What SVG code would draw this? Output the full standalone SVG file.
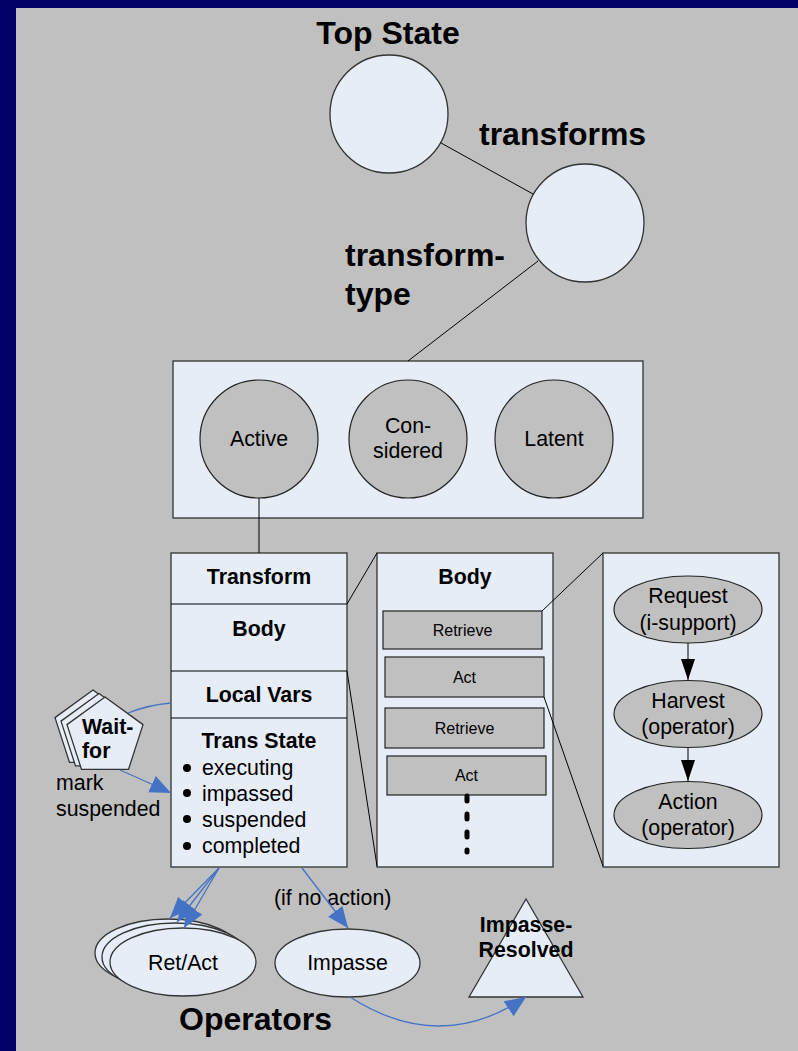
<svg xmlns="http://www.w3.org/2000/svg" width="798" height="1051" viewBox="0 0 798 1051">
<style>
text{font-family:"Liberation Sans",Arial,sans-serif;fill:#000}
.big{font-size:32px;font-weight:bold}
.b{font-size:21.33px;font-weight:bold}
.r{font-size:21.33px}
.s{font-size:16px}
.c{text-anchor:middle}
.lb{fill:#E6EDF7;stroke:#333;stroke-width:1.3}
.gy{fill:#C0C0C0;stroke:#222;stroke-width:1.2}
.ln{stroke:#000;stroke-width:1;fill:none}
.bl{stroke:#4472C4;stroke-width:1.3;fill:none}
</style>
<defs>
<marker id="ab" markerUnits="userSpaceOnUse" markerWidth="24" markerHeight="20" refX="21" refY="9" orient="auto"><path d="M0,0 L21,9 L0,18 z" fill="#4472C4"/></marker>
<marker id="ak" markerUnits="userSpaceOnUse" markerWidth="24" markerHeight="16" refX="21" refY="7" orient="auto"><path d="M0,0 L21,7 L0,14 z" fill="#000"/></marker>
</defs>
<rect x="0" y="0" width="798" height="1051" fill="#000066"/>
<rect x="16" y="8" width="782" height="1043" fill="#C0C0C0"/>
<g id="top-state">
<text class="big c" x="388" y="44">Top State</text>
<circle class="lb" cx="389" cy="114" r="59" stroke="#000" stroke-width="1"/>
</g>
<g id="transforms">
<text class="big" x="479" y="145">transforms</text>
<circle class="lb" cx="585" cy="223" r="59" stroke="#000" stroke-width="1"/>
</g>
<g id="transform-type-label">
<text class="big" x="345" y="266">transform-</text>
<text class="big" x="345" y="305">type</text>
</g>
<g id="types-box">
<rect class="lb" x="173" y="361" width="470" height="157"/>
</g>
<g id="active">
<circle class="gy" cx="259" cy="439" r="59"/>
<text class="r c" x="259" y="446">Active</text>
</g>
<g id="considered">
<circle class="gy" cx="408" cy="439" r="59"/>
<text class="r c" x="408" y="433">Con-</text>
<text class="r c" x="408" y="458">sidered</text>
</g>
<g id="latent">
<circle class="gy" cx="554" cy="439" r="59"/>
<text class="r c" x="554" y="446">Latent</text>
</g>
<g id="transform">
<rect class="lb" x="171" y="553" width="176" height="314"/>
<line class="ln" x1="171" y1="604" x2="347" y2="604" stroke="#333"/>
<line class="ln" x1="171" y1="671" x2="347" y2="671" stroke="#333"/>
<line class="ln" x1="171" y1="718" x2="347" y2="718" stroke="#333"/>
<text class="b c" x="259" y="584">Transform</text>
<text class="b c" x="259" y="636">Body</text>
<text class="b c" x="259" y="702">Local Vars</text>
<text class="b c" x="259" y="748">Trans State</text>
<circle cx="187" cy="768" r="4"/>
<circle cx="187" cy="793" r="4"/>
<circle cx="187" cy="819" r="4"/>
<circle cx="187" cy="846" r="4"/>
<text class="r" x="202" y="775">executing</text>
<text class="r" x="202" y="801">impassed</text>
<text class="r" x="202" y="827">suspended</text>
<text class="r" x="202" y="853">completed</text>
</g>
<g id="body">
<rect class="lb" x="377" y="553" width="176" height="314"/>
<text class="b c" x="465" y="584">Body</text>
<rect class="gy" x="383" y="611" width="159" height="38"/>
<text class="s c" x="462.5" y="636">Retrieve</text>
<rect class="gy" x="385" y="657" width="159" height="40"/>
<text class="s c" x="464.5" y="683">Act</text>
<rect class="gy" x="385" y="708" width="159" height="40"/>
<text class="s c" x="464.5" y="734">Retrieve</text>
<rect class="gy" x="387" y="756" width="159" height="39"/>
<text class="s c" x="466.5" y="781">Act</text>
<line x1="467" y1="796" x2="467" y2="852" stroke="#000" stroke-width="5" stroke-linecap="round" stroke-dasharray="5 13"/>
</g>
<g id="act-detail">
<rect class="lb" x="603" y="553" width="176" height="314"/>
<ellipse class="gy" cx="688" cy="609.5" rx="74" ry="33.5"/>
<text class="r c" x="688" y="603">Request</text>
<text class="r c" x="688" y="630">(i-support)</text>
<ellipse class="gy" cx="688" cy="714" rx="74" ry="33.5"/>
<text class="r c" x="688" y="708">Harvest</text>
<text class="r c" x="688" y="734">(operator)</text>
<ellipse class="gy" cx="688" cy="815" rx="74" ry="33.5"/>
<text class="r c" x="688" y="809">Action</text>
<text class="r c" x="688" y="835">(operator)</text>
</g>
<g id="wait-for">
<polygon class="lb" stroke="#000" stroke-width="1" points="93,690 131,717.6 116.5,762.4 69.5,762.4 55,717.6"/>
<polygon class="lb" stroke="#000" stroke-width="1" points="99,693.5 137,721.1 122.5,765.9 75.5,765.9 61,721.1"/>
<polygon class="lb" stroke="#000" stroke-width="1" points="105,697 143,724.6 128.5,769.4 81.5,769.4 67,724.6"/>
<text class="b" x="82" y="734">Wait-</text>
<text class="b" x="82" y="758">for</text>
<text class="r" x="56" y="790">mark</text>
<text class="r" x="56" y="816">suspended</text>
</g>
<g id="ret-act">
<ellipse class="lb" stroke="#000" stroke-width="1" cx="168" cy="953" rx="73" ry="34"/>
<ellipse class="lb" stroke="#000" stroke-width="1" cx="175" cy="957" rx="73" ry="34"/>
<ellipse class="lb" stroke="#000" stroke-width="1" cx="183" cy="962" rx="73" ry="34"/>
<text class="r c" x="183" y="970">Ret/Act</text>
</g>
<g id="if-no-action">
<text class="r" x="274" y="905">(if no action)</text>
</g>
<g id="impasse">
<ellipse class="lb" stroke="#000" stroke-width="1" cx="347.5" cy="963" rx="72.5" ry="34"/>
<text class="r c" x="347.5" y="970">Impasse</text>
</g>
<g id="impasse-resolved">
<polygon class="lb" stroke="#000" stroke-width="1" points="526,899 583,997 469,997"/>
<text class="b c" x="526" y="932">Impasse-</text>
<text class="b c" x="526" y="957">Resolved</text>
</g>
<g id="operators-label">
<text class="big" x="179" y="1030">Operators</text>
</g>
<g id="connectors">
<line class="ln" x1="440.5" y1="142.7" x2="533.5" y2="194.3"/>
<line class="ln" x1="538" y1="261" x2="408" y2="361"/>
<line class="ln" x1="259" y1="498" x2="259" y2="553"/>
<line class="ln" x1="347" y1="604" x2="377" y2="553"/>
<line class="ln" x1="347" y1="671" x2="377" y2="866"/>
<line class="ln" x1="542" y1="611" x2="603" y2="553"/>
<line class="ln" x1="544" y1="697" x2="603" y2="866"/>
<line class="ln" x1="688" y1="643" x2="688" y2="680" marker-end="url(#ak)"/>
<line class="ln" x1="688" y1="748" x2="688" y2="781" marker-end="url(#ak)"/>
<path class="bl" d="M171,703 Q148,705 128,713"/>
<path class="bl" d="M120,770 Q145,781 171,793" marker-end="url(#ab)"/>
<line class="bl" x1="219" y1="868" x2="170" y2="918" marker-end="url(#ab)"/>
<line class="bl" x1="219" y1="868" x2="177" y2="922" marker-end="url(#ab)"/>
<line class="bl" x1="219" y1="868" x2="184" y2="928" marker-end="url(#ab)"/>
<line class="bl" x1="302" y1="868" x2="348" y2="928" marker-end="url(#ab)"/>
<path class="bl" d="M350,997 Q440,1055 526,997" marker-end="url(#ab)"/>
</g>
</svg>
